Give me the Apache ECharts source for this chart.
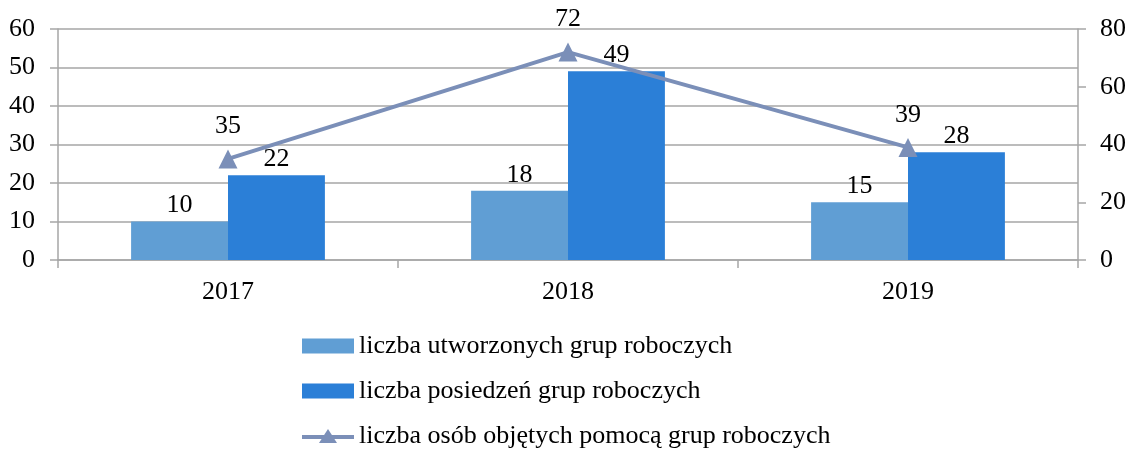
<!DOCTYPE html>
<html>
<head>
<meta charset="utf-8">
<script src="https://cdn.jsdelivr.net/npm/echarts@6/dist/echarts.min.js"></script>
<style>
  html, body { margin: 0; padding: 0; background: #fff; }
  #chart { width: 1130px; height: 450px; }
</style>
</head>
<body>
<div id="chart"></div>
<script>
// Data
let years = ['2017', '2018', '2019'];
let utworzone = [10, 18, 15];
let posiedzenia = [22, 49, 28];
let osoby = [35, 72, 39];
let names = [
    'liczba utworzonych grup roboczych',
    'liczba posiedzeń grup roboczych',
    'liczba osób objętych pomocą grup roboczych'
];

let font_family = '"Liberation Serif", "Times New Roman", serif';
let font_size = 26;
let axis_color = '#a6a6a6';
let line_color = '#7b8fb8';
// line with a triangle in the middle, for the legend
let line_icon = 'path://M0,6 L22.1,6 L26,0 L29.9,6 L52,6 L52,10 L32.4,10 L35,14 L17,14 L19.6,10 L0,10 Z';

let chart = echarts.init(document.getElementById('chart'));

let option = {
    backgroundColor: '#ffffff',
    textStyle: {fontFamily: font_family},
    grid: {left: 58, right: 52, top: 29, bottom: 190, containLabel: false},
    legend: {
        orient: 'vertical',
        left: 302,
        top: 333,
        height: 130,
        padding: 0,
        itemWidth: 52,
        itemHeight: 15,
        itemGap: 19,
        textStyle: {fontFamily: font_family, fontSize: font_size, color: '#000'},
        data: [
            {name: names[0], icon: 'rect'},
            {name: names[1], icon: 'rect'},
            {name: names[2], icon: line_icon, itemStyle: {color: line_color}}
        ]
    },
    xAxis: {
        type: 'category',
        data: years,
        axisLine: {lineStyle: {color: axis_color, width: 1.5}},
        axisTick: {show: true, length: 8, alignWithLabel: false, lineStyle: {color: axis_color, width: 1.5}},
        axisLabel: {color: '#000', fontSize: font_size, fontFamily: font_family, margin: 19}
    },
    yAxis: [
        {
            type: 'value',
            min: 0, max: 60, interval: 10,
            axisLine: {show: true, lineStyle: {color: axis_color, width: 1.5}},
            axisTick: {show: true, length: 8, lineStyle: {color: axis_color, width: 1.5}},
            axisLabel: {color: '#000', fontSize: font_size, fontFamily: font_family, margin: 23},
            splitLine: {show: true, lineStyle: {color: axis_color, width: 1.5}}
        },
        {
            type: 'value',
            min: 0, max: 80, interval: 20,
            position: 'right',
            axisLine: {show: true, lineStyle: {color: axis_color, width: 1.5}},
            axisTick: {show: true, length: 8, lineStyle: {color: axis_color, width: 1.5}},
            axisLabel: {color: '#000', fontSize: font_size, fontFamily: font_family, margin: 22},
            splitLine: {show: false}
        }
    ],
    series: [
        {
            name: names[0],
            type: 'bar',
            data: utworzone,
            barGap: '0%',
            barCategoryGap: '43%',
            itemStyle: {color: '#609ed4'},
            label: {show: true, position: 'top', color: '#000', fontSize: font_size, fontFamily: font_family, distance: 3}
        },
        {
            name: names[1],
            type: 'bar',
            data: posiedzenia,
            barGap: '0%',
            barCategoryGap: '43%',
            itemStyle: {color: '#2b7fd7'},
            label: {show: true, position: 'top', color: '#000', fontSize: font_size, fontFamily: font_family, distance: 3}
        },
        {
            name: names[2],
            type: 'line',
            yAxisIndex: 1,
            data: osoby,
            symbol: 'triangle',
            symbolSize: 19,
            lineStyle: {color: line_color, width: 4},
            itemStyle: {color: line_color},
            label: {show: true, position: 'top', color: '#000', fontSize: font_size, fontFamily: font_family, distance: 10}
        }
    ]
};

chart.setOption(option, true);
</script>
</body>
</html>
